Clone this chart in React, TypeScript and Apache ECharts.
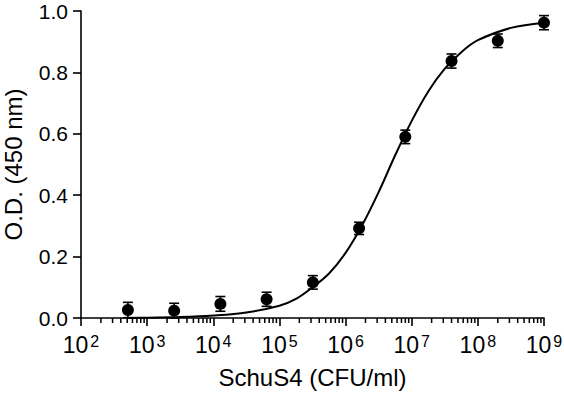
import React, { useEffect, useRef } from "react";
import * as echarts from "echarts";

// Data
const concentrations = [512, 2560, 12800, 64000, 320000, 1600000, 8000000, 40000000, 200000000, 1000000000];
const odMeans = [0.026, 0.024, 0.046, 0.061, 0.116, 0.292, 0.59, 0.837, 0.903, 0.962];
const odErrors = [0.025, 0.024, 0.024, 0.023, 0.022, 0.02, 0.022, 0.023, 0.022, 0.023];

// Fitted curve at decade exponents
const curveExponents = [2.7, 3.0, 3.5, 4.0, 4.5, 5.0, 5.25, 5.5, 5.75, 6.0, 6.25, 6.5, 6.75, 7.0, 7.25, 7.5, 7.75, 8.0, 8.5, 9.0];
const curveValues = [0.0, 0.001, 0.003, 0.008, 0.018, 0.04, 0.062, 0.1, 0.145, 0.212, 0.302, 0.41, 0.53, 0.642, 0.738, 0.812, 0.866, 0.905, 0.945, 0.962];

// Axis ticks
const xDecadeExponents = [2, 3, 4, 5, 6, 7, 8, 9];
const minorMultipliers = [2, 3, 4, 5, 6, 7, 8, 9];
const yTicks = [0, 0.2, 0.4, 0.6, 0.8, 1.0];

const FONT = "'Liberation Sans', Arial, Helvetica, sans-serif";

export default function App() {
  const ref = useRef<HTMLDivElement>(null);

  useEffect(() => {
    if (!ref.current) return;
    const chart = echarts.init(ref.current, undefined, { renderer: "svg" });

    const points = concentrations.map((c, i) => [c, odMeans[i]]);
    const errData = concentrations.map((c, i) => [c, odMeans[i], odErrors[i]]);
    const curve = curveExponents.map((e, i) => [Math.pow(10, e), curveValues[i]]);
    const minorTicks: number[][] = [];
    xDecadeExponents.slice(0, -1).forEach((e) => {
      minorMultipliers.forEach((m) => minorTicks.push([m * Math.pow(10, e), 0]));
    });

    chart.setOption({
      animation: false,
      backgroundColor: "#fff",
      grid: { left: 81, right: 20, top: 11, bottom: 75, containLabel: false, outerBoundsMode: "none" },
      xAxis: {
        type: "log",
        logBase: 10,
        min: Math.pow(10, xDecadeExponents[0]),
        max: Math.pow(10, xDecadeExponents[xDecadeExponents.length - 1]),
        splitNumber: 7,
        name: "SchuS4 (CFU/ml)",
        nameLocation: "middle",
        nameGap: 47,
        nameTextStyle: { fontFamily: FONT, fontSize: 24, color: "#000" },
        axisLine: { show: true, lineStyle: { color: "#000", width: 1.6 } },
        axisTick: { show: true, length: 8, lineStyle: { color: "#000", width: 1.6 } },
        splitLine: { show: false },
        axisLabel: {
          margin: 15,
          color: "#000",
          fontFamily: FONT,
          formatter: (v: number) => `{b|10}{s|${Math.round(Math.log10(v))}}`,
          rich: {
            b: { fontFamily: FONT, fontSize: 23, color: "#000", lineHeight: 24 },
            s: { fontFamily: FONT, fontSize: 16, color: "#000", lineHeight: 16, verticalAlign: "top", padding: [0, 0, 0, 2] },
          },
        },
      },
      yAxis: {
        type: "value",
        min: yTicks[0],
        max: yTicks[yTicks.length - 1],
        interval: 0.2,
        name: "O.D. (450 nm)",
        nameLocation: "middle",
        nameGap: 56,
        nameTextStyle: { fontFamily: FONT, fontSize: 24, color: "#000" },
        axisLine: { show: true, lineStyle: { color: "#000", width: 1.6 } },
        axisTick: { show: true, length: 8, lineStyle: { color: "#000", width: 1.6 } },
        splitLine: { show: false },
        axisLabel: {
          margin: 13,
          color: "#000",
          fontFamily: FONT,
          fontSize: 21,
          lineHeight: 20,
          formatter: (v: number) => v.toFixed(1),
        },
      },
      series: [
        {
          type: "scatter",
          data: minorTicks,
          symbol: "rect",
          symbolSize: [1.5, 5],
          symbolOffset: [0, 2.5],
          itemStyle: { color: "#000", opacity: 1 },
          clip: false,
          silent: true,
          z: 1,
        },
        {
          type: "line",
          data: curve,
          smooth: 0.35,
          showSymbol: false,
          symbol: "none",
          lineStyle: { color: "#000", width: 2 },
          z: 2,
          silent: true,
        },
        {
          type: "custom",
          data: errData,
          encode: { x: 0, y: 1 },
          z: 3,
          renderItem: (params: any, api: any) => {
            const x = api.value(0);
            const y = api.value(1);
            const e = api.value(2);
            const top = api.coord([x, y + e]);
            const bot = api.coord([x, y - e]);
            const hw = 5;
            const style = { stroke: "#000", lineWidth: 1.6 };
            return {
              type: "group",
              children: [
                { type: "line", shape: { x1: top[0], y1: top[1], x2: bot[0], y2: bot[1] }, style },
                { type: "line", shape: { x1: top[0] - hw, y1: top[1], x2: top[0] + hw, y2: top[1] }, style },
                { type: "line", shape: { x1: bot[0] - hw, y1: bot[1], x2: bot[0] + hw, y2: bot[1] }, style },
              ],
            };
          },
        },
        {
          type: "scatter",
          data: points,
          symbol: "circle",
          symbolSize: 12,
          itemStyle: { color: "#000", opacity: 1 },
          z: 4,
        },
      ],
    });

    return () => chart.dispose();
  }, []);

  return (
    <div
      ref={ref}
      style={{ position: "fixed", left: 0, top: 0, width: 564, height: 393, background: "#fff" }}
    />
  );
}
